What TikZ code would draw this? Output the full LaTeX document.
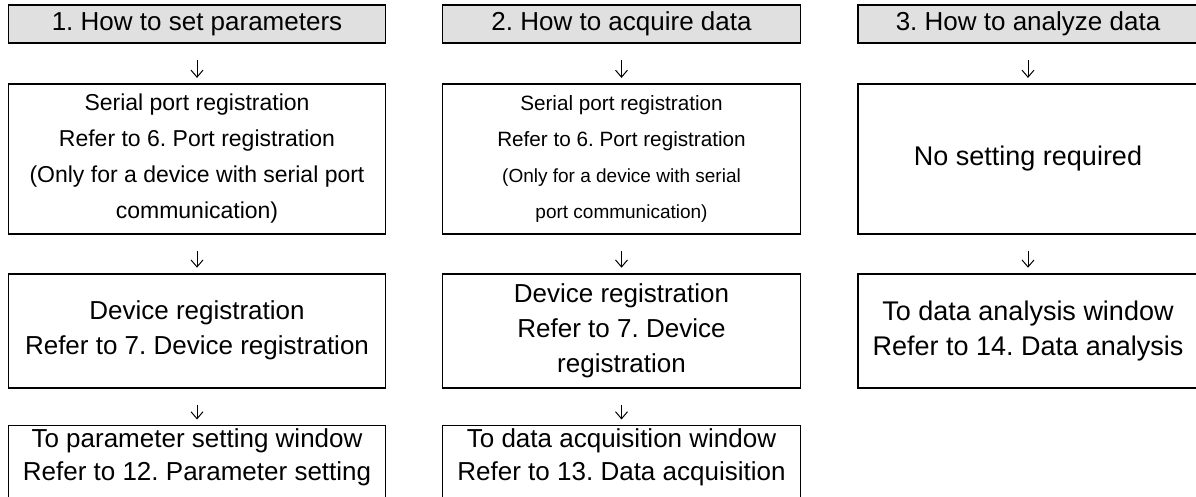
\documentclass[tikz,border=0pt]{standalone}
\usepackage{fontspec}
\setmainfont{Liberation Sans}
\usetikzlibrary{arrows.meta, positioning}
\frenchspacing

\begin{document}
\begin{tikzpicture}[
        x=1pt, y=1pt,
        font=\fontsize{26}{35}\selectfont,
        head_box/.style = {rectangle, draw=black, fill=black!12, line width=1.8pt, minimum width=#1, minimum height=38pt, inner sep=2pt},
        step_box/.style = {rectangle, draw=black, line width=1.8pt, minimum width=#1, inner sep=3pt, align=center},
        win_box/.style = {step_box=#1, text depth=60pt},
        flow/.style = {-{Straight Barb[length=7pt, width=12pt]}, line width=1pt, shorten <=16pt, shorten >=5pt}
    ]

    \useasboundingbox (0,0) rectangle (1196,-497);
    \clip (0,0) rectangle (1196,-497);

    % Column 1 (parameters)
    \node [head_box=377pt] at (197,-24) (set_head) {1. How to set parameters};
    \node [step_box=377pt, minimum height=150pt, below=39pt of set_head, font=\fontsize{23}{36}\selectfont] (set_port)
        {Serial port registration\\Refer to 6. Port registration\\(Only for a device with serial port\\communication)};
    \node [step_box=377pt, minimum height=114pt, below=38pt of set_port] (set_dev)
        {Device registration\\Refer to 7. Device registration};
    \node [win_box=377pt, below=36pt of set_dev, font=\fontsize{26}{33}\selectfont] (set_win)
        {To parameter setting window\\Refer to 12. Parameter setting};

    % Column 2 (acquisition)
    \node [head_box=358pt] at (621.5,-24) (acq_head) {2. How to acquire data};
    \node [step_box=358pt, minimum height=150pt, below=39pt of acq_head, font=\fontsize{20.7}{36}\selectfont] (acq_port)
        {Serial port registration\\Refer to 6. Port registration\\{\fontsize{19}{36}\selectfont (Only for a device with serial}\\{\fontsize{19}{36}\selectfont port communication)}};
    \node [step_box=358pt, minimum height=114pt, below=38pt of acq_port] (acq_dev)
        {Device registration\\Refer to 7. Device\\registration};
    \node [win_box=358pt, below=36pt of acq_dev, font=\fontsize{26}{33}\selectfont] (acq_win)
        {To data acquisition window\\Refer to 13. Data acquisition};

    % Column 3 (analysis)
    \node [head_box=340pt] at (1028,-24) (ana_head) {3. How to analyze data};
    \node [step_box=340pt, minimum height=150pt, below=39pt of ana_head, font=\fontsize{27}{35}\selectfont] (ana_none)
        {No setting required};
    \node [step_box=340pt, minimum height=114pt, below=38pt of ana_none, font=\fontsize{27}{35}\selectfont] (ana_win)
        {To data analysis window\\Refer to 14. Data analysis};

    % Connections
    \draw [flow] (set_head) -- (set_port);
    \draw [flow] (set_port) -- (set_dev);
    \draw [flow] (set_dev) -- (set_win);
    \draw [flow] (acq_head) -- (acq_port);
    \draw [flow] (acq_port) -- (acq_dev);
    \draw [flow] (acq_dev) -- (acq_win);
    \draw [flow] (ana_head) -- (ana_none);
    \draw [flow] (ana_none) -- (ana_win);

\end{tikzpicture}
\end{document}
